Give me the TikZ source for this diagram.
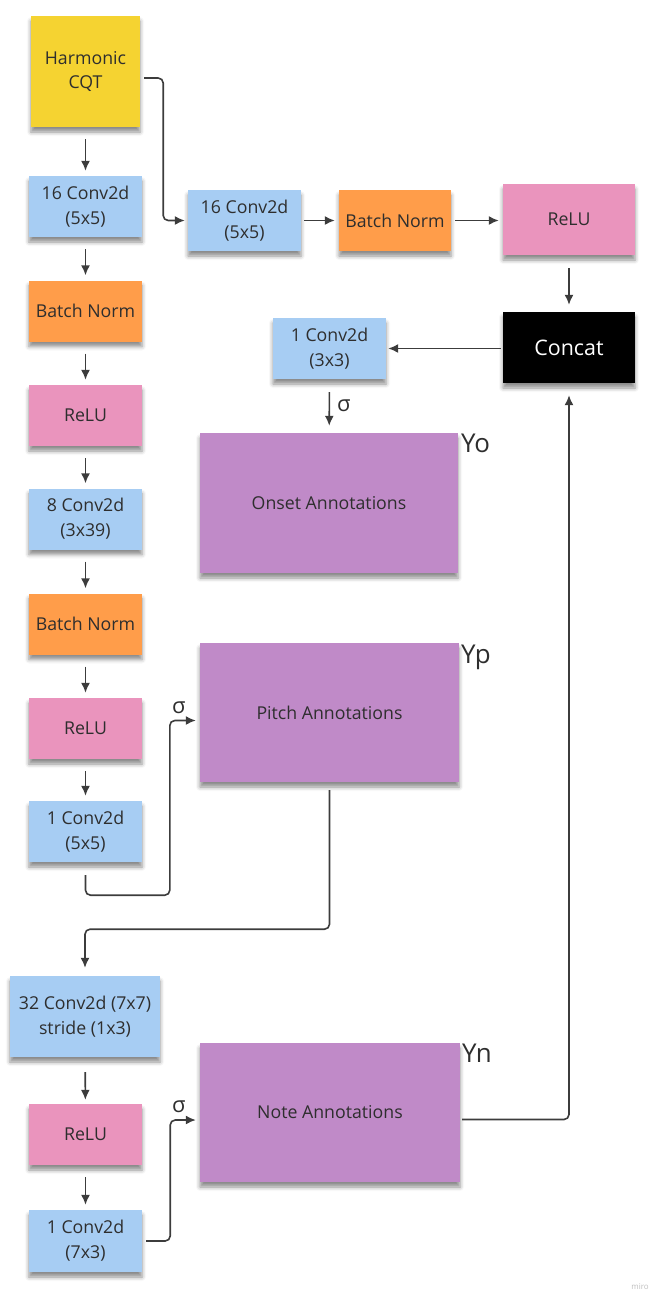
\documentclass[tikz,border=0pt]{standalone}
\usepackage{fontspec}
\setmainfont{Open Sans}
\usetikzlibrary{arrows.meta,shadows.blur}

\definecolor{cqtyellow}{HTML}{F5D331}
\definecolor{convblue}{HTML}{A7CDF3}
\definecolor{normorange}{HTML}{FF9D4A}
\definecolor{relupink}{HTML}{EA94BD}
\definecolor{annpurple}{HTML}{C08AC8}
\definecolor{linkgray}{HTML}{3C3C3C}
\definecolor{textgray}{HTML}{2E2E2E}

\tikzset{
  sticky/.style={draw=none,inner sep=0pt,align=center,text=textgray,
    font=\fontsize{17.8}{25}\selectfont,
    blur shadow={shadow xshift=0bp,shadow yshift=-5bp,shadow opacity=45,shadow blur radius=4bp}},
  convbox/.style={sticky,fill=convblue,minimum width=113bp,minimum height=61bp},
  normbox/.style={sticky,fill=normorange,minimum width=113bp,minimum height=61bp},
  relubox/.style={sticky,fill=relupink,minimum width=113bp,minimum height=61bp},
  annbox/.style={sticky,fill=annpurple,minimum width=258bp,minimum height=140bp},
  outlabel/.style={text=textgray,font=\fontsize{26}{30}\selectfont,inner sep=0pt,anchor=base west},
  sigma/.style={text=textgray,font=\fontsize{22}{24}\selectfont,inner sep=0pt,anchor=base west},
  link/.style={->,line width=1.6bp,draw=linkgray,rounded corners=5bp},
  down/.style={link,shorten <=12bp,shorten >=5bp},
}

\begin{document}
\begin{tikzpicture}[x=1bp,y=-1bp,>={Latex[length=10bp,width=9bp]}]
\useasboundingbox (0,0) rectangle (651,1291);
%% left column
\node[sticky,fill=cqtyellow,minimum width=109bp,minimum height=111bp] (cqt) at (85.5,71.5) {Harmonic\\CQT};
\node[convbox] (conva) at (85.5,206.5) {16 Conv2d\\(5x5)};
\node[normbox] (bna) at (85.5,311) {Batch Norm};
\node[relubox] (relua) at (85.5,415.5) {ReLU};
\node[convbox] (convk) at (85.5,519) {8 Conv2d\\(3x39)};
\node[normbox] (bnk) at (85.5,624) {Batch Norm};
\node[relubox] (reluk) at (85.5,728.5) {ReLU};
\node[convbox] (convp) at (85.5,831.5) {1 Conv2d\\(5x5)};
\node[convbox,minimum width=150bp,minimum height=81bp] (convs) at (85,1016.5) {32 Conv2d (7x7)\\stride (1x3)};
\node[relubox] (relus) at (85.5,1134.5) {ReLU};
\node[convbox,minimum height=62bp] (convn) at (85.5,1241) {1 Conv2d\\(7x3)};
%% top branch
\node[convbox] (convb) at (244.5,220.5) {16 Conv2d\\(5x5)};
\node[normbox,minimum width=112bp] (bnb) at (395,220.5) {Batch Norm};
\node[relubox,minimum width=132bp,minimum height=71bp] (relub) at (569,219.5) {ReLU};
\node[sticky,fill=black,text=white,font=\fontsize{21.5}{24}\selectfont,minimum width=132bp,minimum height=71bp] (concat) at (569,347.5) {Concat};
\node[convbox] (outconv) at (329.5,348.5) {1 Conv2d\\(3x3)};
%% annotations
\node[annbox] (onset) at (329,503) {Onset Annotations};
\node[annbox,minimum width=259bp,minimum height=139bp] (pitch) at (329.5,712.5) {Pitch Annotations};
\node[annbox,minimum width=260bp,minimum height=139bp] (note) at (330,1112.5) {Note Annotations};
\node[outlabel] (yo) at (461,452) {Yo};
\node[outlabel] (yp) at (461,663) {Yp};
\node[outlabel] (yn) at (462,1062) {Yn};
\node[sigma] (sigp) at (172,713) {σ};
\node[sigma] (sign) at (172,1112) {σ};
\node[text=black!25,font=\fontsize{8}{9}\selectfont,inner sep=0pt,anchor=base east] (miro) at (649,1289) {miro};
%% connectors
\draw[down] (cqt) -- (conva);
\draw[down] (conva) -- (bna);
\draw[down] (bna) -- (relua);
\draw[down] (relua) -- (convk);
\draw[down] (convk) -- (bnk);
\draw[down] (bnk) -- (reluk);
\draw[down] (reluk) -- (convp);
\draw[link,shorten <=4bp,shorten >=3bp] ([yshift=-6.5bp]cqt.east) -- ++(23,0) |- (convb.west);
\draw[link,shorten <=3bp,shorten >=4bp] (convb) -- (bnb);
\draw[link,shorten <=4bp,shorten >=4bp] (bnb.east) -- (bnb.east -| relub.west);
\draw[down,shorten <=13bp,shorten >=7bp] (relub) -- (concat);
\draw[link,shorten <=2bp,shorten >=2bp] (concat.west |- outconv.east) -- (outconv.east);
\draw[down,shorten <=13bp,shorten >=7bp] (outconv) -- node[sigma,anchor=west,xshift=7bp] (sigo) {σ} (onset);
\draw[link,shorten <=13bp,shorten >=4bp] (convp.south) -- ++(0,33) -| ([xshift=-30bp,yshift=-8bp]pitch.west) -- ([yshift=-8bp]pitch.west);
\draw[link,shorten <=8bp,shorten >=8bp] (pitch.south) -- ++(0,147) -| (convs.north);
\draw[down,shorten <=15bp,shorten >=4bp] (convs) -- (relus);
\draw[down] (relus) -- (convn);
\draw[link,shorten <=4bp,shorten >=4bp] (convn.east) -- ++(28,0) |- ([yshift=-7.5bp]note.west);
\draw[link,shorten <=2bp,shorten >=12bp] ([yshift=-7bp]note.east) -| (concat.south);
%
\end{tikzpicture}
\end{document}
